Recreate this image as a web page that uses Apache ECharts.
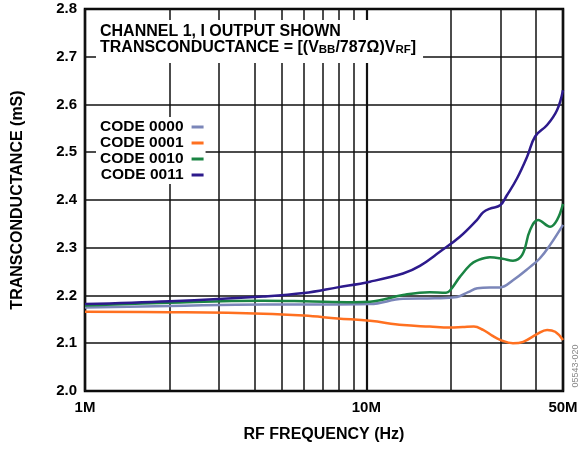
<!DOCTYPE html>
<html><head><meta charset="utf-8">
<script src="https://cdn.jsdelivr.net/npm/echarts@6/dist/echarts.min.js"></script>
<style>html,body{margin:0;padding:0;background:#fff}#c{width:581px;height:450px}</style>
</head><body><div id="c"></div>
<script>
// Frequencies in MHz, transconductance in mS
const seriesNames = ['CODE 0000', 'CODE 0001', 'CODE 0010', 'CODE 0011'];

const freq0000 = [1, 2, 4.3, 7, 10.3, 13.5, 17.5, 21, 23, 24.8, 27.5, 29.9, 33.2, 38.2, 41.4, 45, 50];
const val0000  = [2.175, 2.178, 2.181, 2.181, 2.182, 2.193, 2.194, 2.197, 2.207, 2.215, 2.217, 2.217, 2.232, 2.260, 2.278, 2.306, 2.348];

const freq0001 = [1, 2, 4.3, 6, 7.9, 10.3, 13.5, 16.8, 19.8, 22, 24.1, 26, 28, 29.9, 33.2, 36.1, 40.4, 43.9, 46.9, 50];
const val0001  = [2.166, 2.165, 2.162, 2.158, 2.152, 2.147, 2.138, 2.135, 2.133, 2.134, 2.135, 2.128, 2.116, 2.107, 2.100, 2.103, 2.119, 2.128, 2.124, 2.107];

const freq0010 = [1, 2, 4.3, 6, 9, 10.3, 13.5, 16.8, 19.2, 19.8, 21.5, 23.4, 24.7, 27.5, 30.5, 33.2, 35.8, 38.2, 40.8, 45, 47.6, 50];
const val0010  = [2.179, 2.185, 2.189, 2.188, 2.186, 2.187, 2.201, 2.207, 2.206, 2.210, 2.239, 2.264, 2.273, 2.280, 2.277, 2.273, 2.285, 2.337, 2.358, 2.344, 2.358, 2.392];

const freq0011 = [1, 2, 4.3, 6, 7.9, 10.3, 13.5, 15.5, 18.3, 21.5, 24.7, 26, 27.5, 29.9, 31.6, 34.3, 37.3, 39.8, 43.9, 47.6, 50];
const val0011  = [2.182, 2.188, 2.198, 2.205, 2.217, 2.229, 2.246, 2.262, 2.292, 2.323, 2.358, 2.374, 2.382, 2.389, 2.410, 2.445, 2.491, 2.533, 2.557, 2.588, 2.630];

const minorGridFreqs = [2, 3, 4, 5, 6, 7, 8, 9, 20, 30, 40];
const xTickLabels = ['1M', '10M', '50M'];
const yTickLabels = ['2.0', '2.1', '2.2', '2.3', '2.4', '2.5', '2.6', '2.7', '2.8'];

const colors = ['#7B86B9', '#FF7020', '#1A8443', '#2D1A8C'];
const FONT = "'Liberation Sans', Arial, Helvetica, sans-serif";

function pairs(f, v) { return f.map((x, i) => [x, v[i]]); }
const allData = [pairs(freq0000, val0000), pairs(freq0001, val0001), pairs(freq0010, val0010), pairs(freq0011, val0011)];

const chart = echarts.init(document.getElementById('c'), null, { renderer: 'canvas' });

const series = allData.map((d, i) => ({
  name: seriesNames[i],
  type: 'line',
  data: d,
  smooth: 0.4,
  showSymbol: false,
  symbol: 'none',
  lineStyle: { width: 2.5, color: colors[i] },
  itemStyle: { color: colors[i] },
  z: 3 + i,
  animation: false
}));

series.push({
  name: 'grid',
  type: 'line',
  data: [],
  silent: true,
  animation: false,
  markLine: {
    silent: true,
    z: 1,
    symbol: ['none', 'none'],
    animation: false,
    label: { show: false },
    lineStyle: { color: '#111', width: 1.5, type: 'solid' },
    emphasis: { disabled: true },
    data: minorGridFreqs.map(f => ({ xAxis: f }))
  }
});

const option = {
  animation: false,
  backgroundColor: '#fff',
  textStyle: { fontFamily: FONT },
  grid: {
    left: 85, right: 18, top: 9, bottom: 59,
    show: true, borderColor: '#000', borderWidth: 2.5, backgroundColor: 'transparent'
  },
  title: {
    left: 96, top: 20,
    padding: [4, 7, 7, 4],
    backgroundColor: '#fff',
    text: '{a|CHANNEL 1, I OUTPUT SHOWN}\n{a|TRANSCONDUCTANCE = [(V}{s|BB}{a|/787Ω)V}{s|RF}{a|]}',
    textStyle: {
      rich: {
        a: { fontFamily: FONT, fontWeight: 'bold', fontSize: 16, lineHeight: 16, color: '#000' },
        s: { fontFamily: FONT, fontWeight: 'bold', fontSize: 11.5, lineHeight: 6, verticalAlign: 'bottom', color: '#000' }
      }
    }
  },
  legend: {
    show: true,
    left: 96, top: 117,
    orient: 'vertical',
    align: 'right',
    padding: [2, 2, 1, 4],
    backgroundColor: '#fff',
    itemGap: 0,
    itemWidth: 12,
    itemHeight: 3,
    icon: 'rect',
    selectedMode: false,
    data: seriesNames,
    textStyle: { fontFamily: FONT, fontWeight: 'bold', fontSize: 15.5, lineHeight: 16, color: '#000', padding: [0, 3, 0, 0] }
  },
  xAxis: {
    type: 'log',
    logBase: 10,
    min: 1, max: 50,
    name: 'RF FREQUENCY (Hz)',
    nameLocation: 'middle',
    nameGap: 36,
    nameTextStyle: { fontFamily: FONT, fontWeight: 'bold', fontSize: 16, color: '#000' },
    axisLine: { show: false },
    axisTick: { show: false },
    axisLabel: {
      margin: 9,
      fontFamily: FONT, fontWeight: 'bold', fontSize: 15, color: '#000',
      showMinLabel: true, showMaxLabel: true,
      formatter: v => {
        const m = Math.round(v);
        const idx = [1, 10, 50].indexOf(m);
        return idx >= 0 ? xTickLabels[idx] : '';
      }
    },
    splitLine: { show: true, lineStyle: { color: '#111', width: 2.2 } }
  },
  yAxis: {
    type: 'value',
    min: 2.0, max: 2.8, interval: 0.1,
    name: 'TRANSCONDUCTANCE (mS)',
    nameLocation: 'middle',
    nameGap: 59,
    nameTextStyle: { fontFamily: FONT, fontWeight: 'bold', fontSize: 16, color: '#000' },
    axisLine: { show: false },
    axisTick: { show: false },
    axisLabel: {
      margin: 8,
      fontFamily: FONT, fontWeight: 'bold', fontSize: 15, color: '#000',
      formatter: v => yTickLabels[Math.round((v - 2.0) * 10)]
    },
    splitLine: { show: true, lineStyle: { color: '#111', width: 1.5 } }
  },
  graphic: [{
    type: 'text',
    x: 576, y: 366,
    rotation: Math.PI / 2,
    style: {
      text: '05543-020',
      fontFamily: FONT, fontSize: 9, fill: '#888',
      textAlign: 'center', textVerticalAlign: 'middle'
    }
  }],
  series: series
};

chart.setOption(option);
</script>
</body></html>
